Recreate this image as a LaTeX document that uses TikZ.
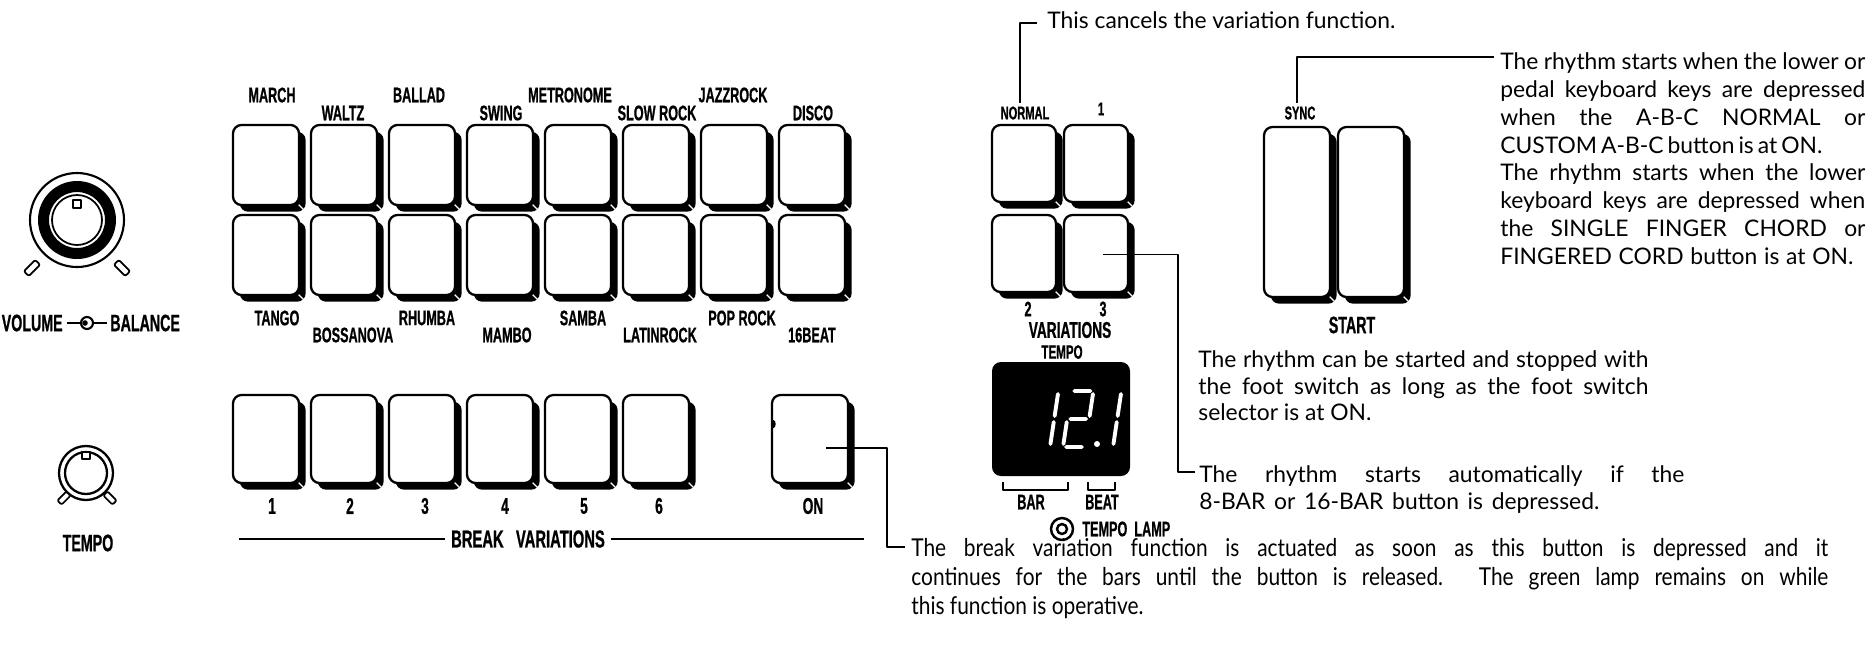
\documentclass[tikz,border=0pt]{standalone}
\usepackage{fontspec}
\setmainfont{Lato}
\newfontfamily\lblfont[FakeStretch=0.6,FakeBold=0.8]{Liberation Sans}
\newfontfamily\notefont[FakeStretch=0.85]{Lato}
\usetikzlibrary{shadows}

\begin{document}
\begin{tikzpicture}[x=0.2mm, y=-0.2mm, line join=round,
  key/.style={draw,line width=1.3pt,fill=white,rounded corners=1.7mm,inner sep=0pt,
    drop shadow={shadow xshift=3.8pt,shadow yshift=-3.8pt,fill=black,opacity=1}},
  gridkey/.style={key,minimum width=13.2mm,minimum height=16mm},
  brkkey/.style={key,minimum width=13.2mm,minimum height=17.6mm},
  varkey/.style={key,minimum width=12.8mm,minimum height=15.4mm},
  startkey/.style={key,minimum width=13.2mm,minimum height=34mm},
  lbl/.style={inner sep=0pt,font=\lblfont\bfseries\fontsize{12pt}{12pt}\selectfont},
  smlbl/.style={inner sep=0pt,font=\lblfont\bfseries\fontsize{10.5pt}{10.5pt}\selectfont},
  biglbl/.style={inner sep=0pt,font=\lblfont\bfseries\fontsize{13.5pt}{13.5pt}\selectfont},
  desc/.style={inner sep=0pt,align=left,font=\fontsize{13pt}{15.9pt}\selectfont},
  lead/.style={line width=1pt},
  tick/.style={draw,line width=1pt,rounded corners=0.4mm,inner sep=0pt,minimum width=3.2mm,minimum height=1.4mm},
  seg/.style={white,line width=2.2pt,line cap=round}]
\useasboundingbox (0,0) rectangle (1874,657);

% knobs
\draw[line width=1.2pt] (77,220) circle (47);
\fill[even odd rule] (77,220) circle (39) (77,220) circle (28);
\draw[line width=1pt] (77,220) circle (25);
\draw[line width=1pt,fill=white] (73,200) rectangle (81,208);
\node[tick,rotate=45] (voltl) at (32,268) {};
\node[tick,rotate=-45] (voltr) at (122,268) {};
\node[biglbl,anchor=east] (vol) at (63,323) {VOLUME};
\node[biglbl,anchor=west] (bal) at (110,323) {BALANCE};
\draw[line width=1.2pt] (67,323) -- (81,323) (93,323) -- (107,323);
\draw[line width=1.2pt] (87,323) circle (6);
\fill (85,323) circle (2.8);

\draw[line width=1.3pt] (86,473) circle (27);
\draw[line width=1.3pt] (86,473) circle (21);
\draw[line width=1pt,fill=white] (82,452) rectangle (90,459);
\node[tick,rotate=45,minimum width=2.6mm,minimum height=1.2mm] (tmptl) at (64,498) {};
\node[tick,rotate=-45,minimum width=2.6mm,minimum height=1.2mm] (tmptr) at (110,498) {};
\node[biglbl] (tmpknob) at (88,543) {TEMPO};

% rhythm selectors
\node[gridkey] (march) at (266,165) {};
\node[gridkey] (waltz) at (344,165) {};
\node[gridkey] (ballad) at (422,165) {};
\node[gridkey] (swing) at (500,165) {};
\node[gridkey] (metro) at (578,165) {};
\node[gridkey] (slowrock) at (656,165) {};
\node[gridkey] (jazzrock) at (734,165) {};
\node[gridkey] (disco) at (812,165) {};
\node[gridkey] (tango) at (266,255) {};
\node[gridkey] (bossa) at (344,255) {};
\node[gridkey] (rhumba) at (422,255) {};
\node[gridkey] (mambo) at (500,255) {};
\node[gridkey] (samba) at (578,255) {};
\node[gridkey] (latinrock) at (656,255) {};
\node[gridkey] (poprock) at (734,255) {};
\node[gridkey] (sixteen) at (812,255) {};
\node[lbl] at (272,95) {MARCH};
\node[lbl] at (343,113) {WALTZ};
\node[lbl] at (419,95) {BALLAD};
\node[lbl] at (501,113) {SWING};
\node[lbl] at (570,95) {METRONOME};
\node[lbl] at (657,113) {SLOW ROCK};
\node[lbl] at (733,95) {JAZZROCK};
\node[lbl] at (813,113) {DISCO};
\node[lbl] at (277,318) {TANGO};
\node[lbl] at (353,335) {BOSSANOVA};
\node[lbl] at (427,318) {RHUMBA};
\node[lbl] at (507,335) {MAMBO};
\node[lbl] at (583,318) {SAMBA};
\node[lbl] at (660,335) {LATINROCK};
\node[lbl] at (742,318) {POP ROCK};
\node[lbl] at (812,335) {16BEAT};

% break variations
\node[brkkey] (b1) at (266,439) {};
\node[brkkey] (b2) at (344,439) {};
\node[brkkey] (b3) at (422,439) {};
\node[brkkey] (b4) at (500,439) {};
\node[brkkey] (b5) at (578,439) {};
\node[brkkey] (b6) at (656,439) {};
\node[brkkey,minimum width=15.2mm] (on) at (810,439) {};
\fill (773.5,424) ellipse (2.2 and 4);
\node[lbl,font=\lblfont\bfseries\fontsize{13pt}{13pt}\selectfont] at (272,506) {1};
\node[lbl,font=\lblfont\bfseries\fontsize{13pt}{13pt}\selectfont] at (350,506) {2};
\node[lbl,font=\lblfont\bfseries\fontsize{13pt}{13pt}\selectfont] at (425,506) {3};
\node[lbl,font=\lblfont\bfseries\fontsize{13pt}{13pt}\selectfont] at (505,506) {4};
\node[lbl,font=\lblfont\bfseries\fontsize{13pt}{13pt}\selectfont] at (584,506) {5};
\node[lbl,font=\lblfont\bfseries\fontsize{13pt}{13pt}\selectfont] at (659,506) {6};
\node[lbl,font=\lblfont\bfseries\fontsize{13pt}{13pt}\selectfont] at (813,506) {ON};
\node[inner sep=0pt,inner xsep=1.2mm,font=\lblfont\bfseries\fontsize{14pt}{14pt}\selectfont] (brklbl) at (528,539) {BREAK\ \ \ VARIATIONS};
\draw[lead] (239,539) -- (brklbl.west);
\draw[lead] (brklbl.east) -- (864,539);

% variations
\node[varkey] (vnorm) at (1024,163.5) {};
\node[varkey] (v1) at (1096,163.5) {};
\node[varkey] (v2) at (1024,253.5) {};
\node[varkey] (v3) at (1096,253.5) {};
\node[smlbl] (normal) at (1025,113) {NORMAL};
\node[smlbl] at (1101,109) {1};
\node[lbl] at (1028,309) {2};
\node[lbl] at (1103,309) {3};
\node[biglbl,font=\lblfont\bfseries\fontsize{13pt}{13pt}\selectfont] at (1070,330) {VARIATIONS};

% tempo display
\node[smlbl,font=\lblfont\bfseries\fontsize{11pt}{11pt}\selectfont] at (1062,352) {TEMPO};
\node[fill=black,rounded corners=1.8mm,minimum width=27.6mm,minimum height=22.8mm] (disp) at (1061,419) {};
\begin{scope}[shift={(1028,447)},xslant=0.15]
\draw[seg] (22,-53) -- (22,-31) (22,-25) -- (22,-3);
\end{scope}
\begin{scope}[shift={(1063,447)},xslant=0.15]
\draw[seg] (3,-56) -- (19,-56) (22,-53) -- (22,-31) (3,-28) -- (19,-28) (0,-25) -- (0,-3) (3,0) -- (19,0);
\end{scope}
\fill[white] (1097,444) circle (3);
\begin{scope}[shift={(1091,447)},xslant=0.15]
\draw[seg] (22,-53) -- (22,-31) (22,-25) -- (22,-3);
\end{scope}
\draw[line width=1.3pt] (1003,482) -- (1003,490) -- (1068,490) -- (1068,482);
\draw[line width=1.3pt] (1088,482) -- (1088,490) -- (1115,490) -- (1115,482);
\node[lbl] at (1031,502) {BAR};
\node[lbl] at (1102,502) {BEAT};
\draw[line width=1.4pt] (1062,529) circle (11);
\draw[line width=1.4pt] (1062,529) circle (5);
\node[lbl,anchor=west] (lamp) at (1082,529) {TEMPO\ \ LAMP};

% start
\node[startkey] (sync) at (1297,212) {};
\node[startkey] (start) at (1371,212) {};
\node[smlbl] (synclbl) at (1300,113) {SYNC};
\node[biglbl] at (1352,325) {START};

% corner glints
\foreach \k in {march,waltz,ballad,swing,metro,slowrock,jazzrock,disco,tango,bossa,rhumba,mambo,samba,latinrock,poprock,sixteen,b1,b2,b3,b4,b5,b6,on,vnorm,v1,v2,v3,sync,start}
  \draw[white,line width=0.7pt] ([shift={(-0.3mm,0.3mm)}]\k.south east) -- ([shift={(1.1mm,-1.1mm)}]\k.south east);

% notes
\node[desc,anchor=west] (cancel) at (1047,20) {This cancels the variation function.};
\coordinate (normpin) at (1037,23);
\draw[lead] ([xshift=-1mm,yshift=2pt]normal.north) |- (normpin);

\node[desc,anchor=north west] (syncnote) at (1500,52) {%
\makebox[73mm][s]{The rhythm starts when the lower or}\\
\makebox[73mm][s]{pedal keyboard keys are depressed}\\
\makebox[73mm][s]{when the A-B-C NORMAL or}\\
\makebox[64.4mm][s]{CUSTOM A-B-C button is at ON.}\\
\makebox[73mm][s]{The rhythm starts when the lower}\\
\makebox[73mm][s]{keyboard keys are depressed when}\\
\makebox[73mm][s]{the SINGLE FINGER CHORD or}\\
\makebox[70.6mm][s]{FINGERED CORD button is at ON.}};
\coordinate (syncpin) at (1494,57);
\draw[lead] ([xshift=-0.6mm,yshift=2pt]synclbl.north) |- (syncpin);

\node[desc,anchor=north west,font=\fontsize{13pt}{15.3pt}\selectfont] (footnote) at (1198,350) {%
\makebox[90mm][s]{The rhythm can be started and stopped with}\\
\makebox[90mm][s]{the foot switch as long as the foot switch}\\
selector is at ON.};

\node[desc,anchor=north west,font=\fontsize{13pt}{15.3pt}\selectfont] (autonote) at (1199,465) {%
\makebox[97mm][s]{The rhythm starts automatically if the}\\
\makebox[80mm][s]{8-BAR or 16-BAR button is depressed.}};
\coordinate (autopin) at (1195,472);
\draw[lead] ([xshift=1.4mm,yshift=-0.2mm]v3.center) -| (1178,472) -- (autopin);

\node[desc,anchor=north west,font=\notefont\fontsize{14pt}{16.4pt}\selectfont] (brknote) at (911,538) {%
\makebox[183.4mm][s]{The break variation function is actuated as soon as this button is depressed and it}\\
\makebox[183.4mm][s]{continues for the bars until the button is released. The green lamp remains on while}\\
this function is operative.};
\coordinate (brkpin) at (905,547);
\draw[lead] ([xshift=3.2mm,yshift=-1.8mm]on.center) -| (887,547) -- (brkpin);
\end{tikzpicture}
\end{document}
